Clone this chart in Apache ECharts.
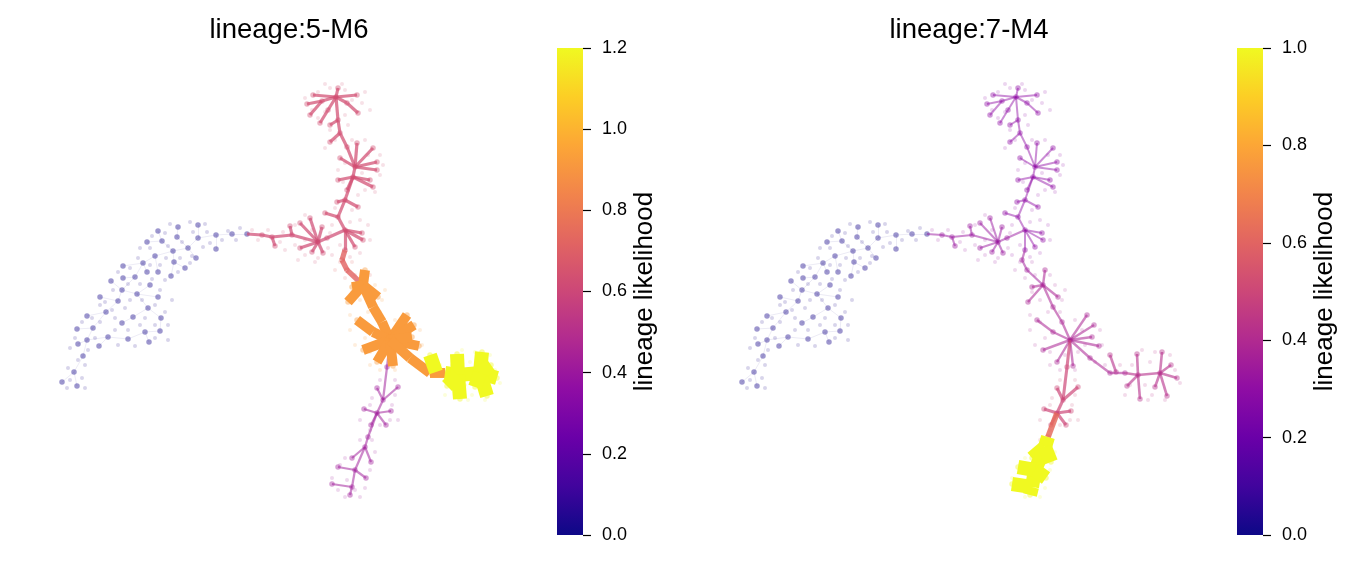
<!DOCTYPE html>
<html>
<head>
<meta charset="utf-8">
<script src="https://cdn.jsdelivr.net/npm/echarts@6/dist/echarts.min.js"></script>
<style>html,body{margin:0;padding:0;background:#fff}#c{width:1356px;height:562px}</style>
</head>
<body>
<div id="c"></div>
<script>
// ---------- DATA (embedding coordinates) ----------
const titles = ['lineage:5-M6', 'lineage:7-M4'];
const barMax = [1.2, 1.0];

const blueArm = [
  [[247,234],[232,234],[216,235],[198,238],[188,248],[173,251],[155,256],[143,263],[135,277],[122,290],[118,301],[106,312],[93,328],[87,340],[83,356],[74,372],[62,382]],
  [[198,238],[198,225]],
  [[188,248],[177,237],[178,227]],
  [[173,251],[162,241],[158,231]],
  [[162,241],[147,242]],
  [[188,248],[196,258]],
  [[173,251],[174,262],[185,268]],
  [[174,262],[171,276]],
  [[155,256],[158,272]],
  [[143,263],[147,272]],
  [[143,263],[123,266]],
  [[135,277],[123,278]],
  [[122,290],[111,281]],
  [[122,290],[137,294],[150,285]],
  [[137,294],[158,297]],
  [[118,301],[100,297]],
  [[137,294],[148,308],[161,318],[160,331]],
  [[148,308],[133,317]],
  [[106,312],[87,316]],
  [[93,328],[77,329]],
  [[133,317],[122,323]],
  [[87,340],[108,337],[128,339],[145,332],[160,331]],
  [[145,332],[149,342]],
  [[87,340],[78,344]],
  [[108,337],[99,346]],
  [[74,372],[77,386]],
  [[216,235],[216,249]]
];
const topArm = [
  [[336,97],[357,95]],
  [[336,97],[347,103],[358,113]],
  [[336,97],[313,95]],
  [[336,97],[322,101],[307,104]],
  [[322,101],[310,115]],
  [[336,97],[338,88]],
  [[336,97],[328,110],[320,123]],
  [[336,97],[338,120],[340,133],[347,147],[355,167]],
  [[338,120],[330,125]],
  [[340,133],[330,142]],
  [[355,167],[357,143]],
  [[355,167],[373,148]],
  [[355,167],[377,162]],
  [[355,167],[377,170]],
  [[355,167],[340,158]],
  [[355,167],[353,177],[345,200],[338,217],[345,230]],
  [[353,177],[338,180]],
  [[353,177],[370,180]],
  [[353,177],[373,187]],
  [[353,177],[347,190]],
  [[345,200],[358,207]],
  [[345,200],[337,202]],
  [[338,217],[325,213]],
  [[345,230],[362,233]],
  [[345,230],[363,240]],
  [[345,230],[355,247]],
  [[345,230],[345,250]]
];
const leftArm = [
  [[345,230],[327,238],[318,242],[292,235],[272,237],[262,235],[247,234]],
  [[318,242],[300,223]],
  [[318,242],[310,218]],
  [[318,242],[322,227]],
  [[318,242],[300,248]],
  [[318,242],[312,252]],
  [[318,242],[323,253]],
  [[292,235],[290,226]],
  [[272,237],[275,246]]
];
const transArm = [
  [[345,250],[342,260],[347,270],[363,285]]
];
const midArm = [
  [[363,285],[365,270]],
  [[363,285],[348,302]],
  [[363,285],[378,297]],
  [[363,285],[352,287]],
  [[363,285],[373,307],[382,322],[390,340]],
  [[390,340],[373,332],[357,320]],
  [[390,340],[363,350]],
  [[390,340],[377,362]],
  [[390,340],[393,366]],
  [[390,340],[407,315]],
  [[390,340],[414,325]],
  [[390,340],[419,346]],
  [[390,340],[412,337]],
  [[390,340],[410,358],[430,373],[445,373]]
];
const rightArm = [
  [[445,373],[458,375],[480,373],[497,378]],
  [[458,375],[457,354]],
  [[458,375],[460,399]],
  [[436,372],[430,355]],
  [[480,373],[482,352]],
  [[480,373],[487,396]],
  [[480,373],[491,365]],
  [[458,375],[447,386]],
  [[480,373],[475,387]]
];
const lowUpper = [
  [[390,340],[387,367],[383,400],[377,413]],
  [[383,400],[398,387]],
  [[383,400],[377,388]],
  [[377,413],[364,409]],
  [[377,413],[391,411]],
  [[377,413],[371,425]],
  [[377,413],[386,425]]
];
const lowLink = [
  [[377,413],[368,437]]
];
const lowTip = [
  [[368,437],[365,447],[355,470],[352,487],[350,495]],
  [[365,447],[352,458]],
  [[365,447],[371,462]],
  [[355,470],[338,467]],
  [[355,470],[366,478]],
  [[352,487],[332,484]]
];
const regionPaths = [blueArm, topArm, leftArm, transArm, midArm, rightArm, lowUpper, lowLink, lowTip];
// lineage likelihood of each region, per panel
const lik5 = [0.02, 0.63, 0.62, 0.72, 0.92, 1.2, 0.42, 0.42, 0.42];
const lik7 = [0.02, 0.30, 0.33, 0.35, 0.38, 0.42, 0.50, 0.62, 1.0];

// faint cells per region
const cellsBlue = [[205,224],[190,222],[170,224],[165,233],[152,236],[140,248],[150,248],[168,246],[182,242],[193,232],[207,232],[210,243],[222,240],[228,231],[203,247],[192,256],[180,258],[166,258],[160,265],[150,265],[138,258],[130,268],[118,272],[128,284],[140,284],[152,279],[165,280],[178,272],[190,263],[113,290],[105,302],[112,310],[125,308],[130,300],[142,300],[155,305],[165,312],[168,325],[155,325],[140,325],[128,330],[115,330],[100,322],[92,318],[82,322],[75,338],[70,348],[88,350],[95,338],[118,345],[135,346],[155,338],[168,340],[85,365],[78,360],[68,368],[70,380],[82,378],[67,388],[85,388],[100,305],[115,318],[145,318],[172,300],[160,290],[236,240],[240,228]];
const cellsTop = [[330,88],[345,90],[352,100],[362,103],[365,92],[318,92],[305,98],[312,110],[325,112],[330,130],[345,115],[348,125],[318,118],[335,140],[325,148],[352,140],[365,140],[368,155],[380,155],[383,165],[362,173],[345,163],[338,170],[343,182],[365,190],[375,192],[358,195],[352,210],[360,220],[335,208],[332,225],[350,222],[368,225],[370,240],[360,253],[340,245],[332,255],[350,257],[342,84],[325,84],[370,110],[380,175]];
const cellsLeft = [[305,215],[295,225],[312,230],[305,240],[295,245],[305,255],[318,258],[328,248],[283,232],[280,242],[268,230],[258,240],[252,230],[285,250],[330,233],[298,260],[315,262]];
const cellsTrans = [[340,262],[352,262],[345,278],[355,275],[370,275],[335,270]];
const cellsMid = [[352,292],[360,300],[375,285],[382,300],[368,312],[380,312],[360,322],[350,330],[365,338],[355,345],[370,352],[385,355],[398,352],[402,330],[395,320],[420,330],[422,345],[405,345],[415,362],[395,370],[380,370],[370,365],[350,315],[385,290],[425,365]];
const cellsRight = [[440,365],[450,385],[445,395],[465,385],[470,362],[472,395],[485,400],[495,370],[500,383],[475,352],[462,350],[490,355],[452,365],[468,400]];
const cellsLowUpper = [[395,395],[392,405],[372,398],[370,405],[390,420],[380,425],[370,430],[360,420],[398,420],[395,380],[380,380]];
const cellsLowLink = [[372,440],[360,440]];
const cellsLowTip = [[375,452],[345,458],[340,465],[370,470],[347,480],[365,488],[338,490],[355,490],[345,497],[360,497],[332,478]];
const regionCells = [cellsBlue, cellsTop, cellsLeft, cellsTrans, cellsMid, cellsRight, cellsLowUpper, cellsLowLink, cellsLowTip];

// ---------- styles ----------
const plasmaStops = ['#0d0887','#41049d','#6a00a8','#8f0da4','#b12a90','#cc4778','#e16462','#f2844b','#fca636','#fcce25','#f0f921'];
// edge width (px) as a function of normalised likelihood
const widthStops = [[0, 0.5], [0.3, 2.0], [0.53, 3.2], [0.77, 10], [1, 14]];
function hex2rgb(h){return [parseInt(h.substr(1,2),16),parseInt(h.substr(3,2),16),parseInt(h.substr(5,2),16)];}
function plasma(t){
  t = Math.max(0, Math.min(1, t));
  const n = plasmaStops.length - 1;
  const i = Math.min(n - 1, Math.floor(t * n));
  const f = t * n - i;
  const a = hex2rgb(plasmaStops[i]), b = hex2rgb(plasmaStops[i+1]);
  return 'rgb(' + [0,1,2].map(k => Math.round(a[k] + (b[k]-a[k]) * f)).join(',') + ')';
}
function edgeWidth(t){
  for (let i = 0; i < widthStops.length - 1; i++) {
    const a = widthStops[i], b = widthStops[i+1];
    if (t <= b[0]) return a[1] + (b[1]-a[1]) * (t - a[0]) / (b[0] - a[0]);
  }
  return widthStops[widthStops.length-1][1];
}

// ---------- build ----------
const chart = echarts.init(document.getElementById('c'));
const font = 'Liberation Sans, Arial, sans-serif';
const panelLeft = [40, 720];
const barLeft = [557, 1237];

const grids = [], xAxes = [], yAxes = [], series = [], titleOpts = [];
[lik5, lik7].forEach((lik, p) => {
  const vmax = barMax[p];
  grids.push({left: panelLeft[p], top: 80, width: 480, height: 420, show: false});
  xAxes.push({type: 'value', gridIndex: 2*p, min: 40, max: 520, show: false});
  yAxes.push({type: 'value', gridIndex: 2*p, min: 80, max: 500, inverse: true, show: false});
  // colour bar grid
  grids.push({left: barLeft[p], top: 48, width: 26, height: 487, show: true, borderWidth: 0,
    backgroundColor: new echarts.graphic.LinearGradient(0, 1, 0, 0,
      plasmaStops.map((c, i) => ({offset: i / (plasmaStops.length - 1), color: c})))});
  xAxes.push({type: 'value', gridIndex: 2*p+1, show: false, min: 0, max: 1});
  yAxes.push({type: 'value', gridIndex: 2*p+1, min: 0, max: vmax, interval: 0.2, position: 'right',
    axisLine: {show: false, onZero: false}, splitLine: {show: false},
    axisTick: {show: true, length: 8, lineStyle: {color: '#000', width: 1.2}},
    axisLabel: {color: '#000', fontSize: 18, fontFamily: font, margin: 19, formatter: v => v.toFixed(1)},
    name: 'lineage likelihood', nameLocation: 'middle', nameRotate: 90, nameGap: 49,
    nameTextStyle: {color: '#000', fontSize: 26, fontFamily: font}});

  const cellData = [], nodeData = [], edges = [], seen = {};
  regionPaths.forEach((paths, r) => {
    const v = lik[r];
    const col = plasma(v / vmax);
    regionCells[r].forEach(c => cellData.push({value: c, itemStyle: {color: col}}));
    paths.forEach(path => {
      path.forEach(pt => {
        const key = pt[0] + ',' + pt[1];
        if (!seen[key]) { seen[key] = 1; nodeData.push({value: pt, itemStyle: {color: col}}); }
      });
      for (let i = 0; i < path.length - 1; i++) edges.push({a: path[i], b: path[i+1], v: v});
    });
  });
  edges.sort((e1, e2) => e1.v - e2.v);
  const edgeData = edges.map(e => {
    const t = e.v / vmax;
    return {coords: [e.a, e.b], lineStyle: {color: plasma(t), width: edgeWidth(t), opacity: Math.min(1, 0.12 + 1.15 * t), cap: 'butt'}};
  });
  series.push({type: 'scatter', xAxisIndex: 2*p, yAxisIndex: 2*p, symbolSize: 4, data: cellData,
    itemStyle: {opacity: 0.17}, silent: true, z: 1});
  series.push({type: 'scatter', xAxisIndex: 2*p, yAxisIndex: 2*p, symbolSize: 5.5, data: nodeData,
    itemStyle: {opacity: 0.42}, silent: true, z: 2});
  series.push({type: 'lines', coordinateSystem: 'cartesian2d', xAxisIndex: 2*p, yAxisIndex: 2*p,
    polyline: false, data: edgeData, silent: true, z: 3});
  titleOpts.push({text: titles[p], left: panelLeft[p] + 244, top: 11, textAlign: 'center',
    textStyle: {color: '#000', fontSize: 27.5, fontWeight: 'normal', fontFamily: font}});
});

chart.setOption({
  animation: false,
  backgroundColor: '#fff',
  title: titleOpts,
  grid: grids,
  xAxis: xAxes,
  yAxis: yAxes,
  series: series
});
</script>
</body>
</html>
